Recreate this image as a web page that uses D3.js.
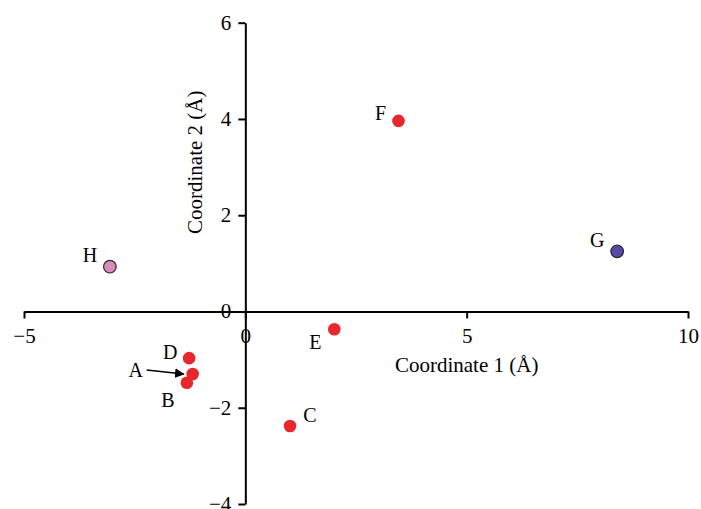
<!DOCTYPE html>
<html>
<head>
<meta charset="utf-8">
<script src="https://cdn.jsdelivr.net/npm/d3@7"></script>
<style>
  body { margin: 0; background: #fff; }
  svg { display: block; }
  svg text { font-family: "Liberation Serif", "Times New Roman", serif; }
</style>
</head>
<body>
<div class="chart"></div>
<script>
const names = ["A", "B", "C", "D", "E", "F", "G", "H"];
const coord1 = [-1.19, -1.32, 1.01, -1.27, 2.01, 3.46, 8.40, -3.06];
const coord2 = [-1.30, -1.48, -2.38, -0.97, -0.37, 3.96, 1.25, 0.93];
const groups = ["red", "red", "red", "red", "red", "red", "blue", "pink"];
const xTicks = [-5, 0, 5, 10];
const yTicks = [-4, -2, 0, 2, 4, 6];

const width = 701;
const height = 509;

// where each letter sits relative to its dot
const labelOffset = {
    A: [-57, -4], B: [-19, 17], C: [20, -11], D: [-19, -6],
    E: [-19, 13], F: [-18, -8], G: [-20, -11], H: [-20, -12]
};

const points = names.map((n, i) => ({ name: n, x: coord1[i], y: coord2[i], group: groups[i] }));

const x = d3.scaleLinear().domain([-5, 10]).range([24, 688]);
const y = d3.scaleLinear().domain([-4, 6]).range([504, 22.7]);

const color = d3.scaleOrdinal()
    .domain(["red", "blue", "pink"])
    .range(["#e8272d", "#5a47a6", "#d98cbb"]);

const svg = d3.select(".chart").append("svg")
    .attr("width", width)
    .attr("height", height);

const defs = svg.append("defs");
defs.append("marker")
    .attr("id", "arrow")
    .attr("viewBox", "0 0 10 10")
    .attr("refX", 9)
    .attr("refY", 5)
    .attr("markerWidth", 6)
    .attr("markerHeight", 6)
    .attr("markerUnits", "strokeWidth")
    .attr("orient", "auto")
    .append("path")
    .attr("d", "M0,0L10,5L0,10z")
    .attr("fill", "#000");

const xAxis = svg.append("g")
    .attr("transform", `translate(0,${y(0)})`)
    .call(d3.axisBottom(x).tickValues(xTicks).tickSize(7).tickSizeOuter(0).tickPadding(10));

const yAxis = svg.append("g")
    .attr("transform", `translate(${x(0)},0)`)
    .call(d3.axisLeft(y).tickValues(yTicks).tickSize(7).tickSizeOuter(0).tickPadding(7));

[xAxis, yAxis].forEach(g => {
    g.attr("font-family", "Liberation Serif").attr("font-size", 21);
    g.selectAll("path, line").attr("stroke", "#000").attr("stroke-width", 2);
    g.selectAll("text").attr("fill", "#000");
});
yAxis.selectAll("text").attr("dy", "0.3em");

svg.append("text")
    .attr("x", x(5))
    .attr("y", y(0) + 54)
    .attr("text-anchor", "middle")
    .attr("dominant-baseline", "central")
    .attr("font-size", 21)
    .text("Coordinate 1 (Å)");

svg.append("text")
    .attr("transform", `translate(${x(0) - 50},${y(3.1)}) rotate(-90)`)
    .attr("text-anchor", "middle")
    .attr("dominant-baseline", "central")
    .attr("font-size", 21)
    .text("Coordinate 2 (Å)");

// arrow pointing at A
const a = points.find(d => d.name === "A");
svg.append("line")
    .attr("x1", x(a.x) - 46)
    .attr("y1", y(a.y) - 4)
    .attr("x2", x(a.x) - 9)
    .attr("y2", y(a.y))
    .attr("stroke", "#000")
    .attr("stroke-width", 1.6)
    .attr("marker-end", "url(#arrow)");

const node = svg.append("g")
    .selectAll("g")
    .data(points)
    .join("g")
    .attr("transform", d => `translate(${x(d.x)},${y(d.y)})`);

node.append("circle")
    .attr("r", 6.3)
    .attr("fill", d => color(d.group))
    .attr("stroke", d => d.group === "red" ? "none" : "#2a2a2a")
    .attr("stroke-width", 1.2);

node.append("text")
    .attr("x", d => labelOffset[d.name][0])
    .attr("y", d => labelOffset[d.name][1])
    .attr("text-anchor", "middle")
    .attr("dominant-baseline", "central")
    .attr("font-size", 20)
    .text(d => d.name);
</script>
</body>
</html>
